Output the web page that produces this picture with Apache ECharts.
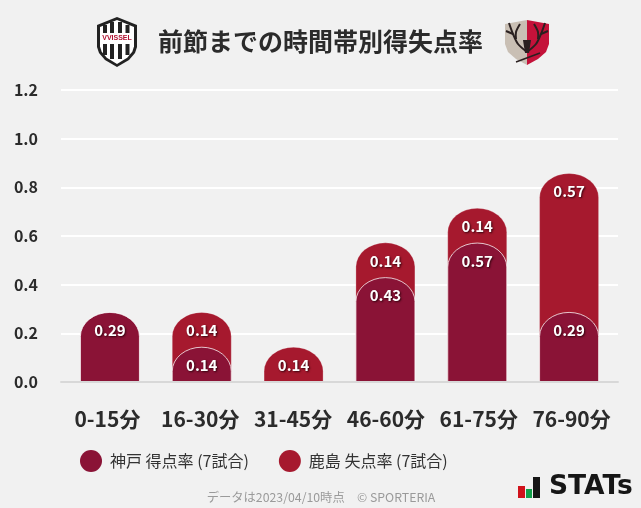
<!DOCTYPE html>
<html><head><meta charset="utf-8">
<style>html,body{margin:0;padding:0;background:#f1f1f1}#c{width:641px;height:508px}</style>
<script src="https://cdn.jsdelivr.net/npm/echarts@6/dist/echarts.min.js"></script>
</head><body><div id="c"></div>
<script>
const categories = ['0-15分','16-30分','31-45分','46-60分','61-75分','76-90分'];
const kobeScored = [0.286,0.143,0,0.429,0.571,0.286];
const kashimaConceded = [0,0.143,0.143,0.143,0.143,0.571];
const yTicks = [0,0.2,0.4,0.6,0.8,1.0,1.2];
const kobeName = '神戸 得点率 (7試合)';
const kashimaName = '鹿島 失点率 (7試合)';
const titleText = '前節までの時間帯別得失点率';
const footerText = 'データは2023/04/10時点　© SPORTERIA';
const FONT = '"Noto Sans CJK JP","Noto Sans",sans-serif';
const DARK = '#8a1336', RED = '#a6192e';

function capBar(color, stroke){
  return function(params, api){
    const idx = api.value(0), top = api.value(1), own = api.value(2);
    if(!own) return {type:'group',children:[]};
    const p0 = api.coord([idx,0]), p1 = api.coord([idx,top]);
    const w = 59, ry = 24;
    const x0 = p0[0]-w/2, x1 = p0[0]+w/2, yb = p0[1], yt = p1[1], yc = yt+ry;
    const d = `M${x0} ${yb}L${x0} ${yc}A${w/2} ${ry} 0 0 1 ${x1} ${yc}L${x1} ${yb}Z`;
    return {type:'group',children:[
      {type:'path',shape:{pathData:d},style:{fill:color,stroke:stroke,lineWidth:1}},
      {type:'text',style:{text:own.toFixed(2),x:p0[0],y:yt+18,align:'center',verticalAlign:'middle',
        fill:'#fff',font:'bold 15px '+FONT,textShadowColor:'rgba(40,0,10,0.9)',textShadowBlur:2,textShadowOffsetX:1,textShadowOffsetY:1}}
    ]};
  };
}

const shield = (x,y,w,h)=>[[x+w/2,y],[x+w,y+h*0.16],[x+w,y+h*0.6],[x+w*0.95,y+h*0.72],[x+w*0.8,y+h*0.86],[x+w/2,y+h],[x+w*0.2,y+h*0.86],[x+w*0.05,y+h*0.72],[x,y+h*0.6],[x,y+h*0.16]];
const poly = (points,fill,z)=>({type:'polygon',shape:{points},style:{fill},z:z||10});
const line = (points,lw,z)=>({type:'polyline',shape:{points,smooth:0.3},style:{fill:'none',stroke:'#2a2020',lineWidth:lw||2},z:z||11});
const stripes = [103,110,118,125.5].map(x=>({type:'rect',shape:{x:x,y:(x>105&&x<125)?22:25,width:4,height:(x>105&&x<125)?37:30},style:{fill:'#222'},z:11}));
const graphics = [
  poly(shield(97,17,40,50),'#222'),
  poly(shield(100,20,34,44),'#fff'),
  ...stripes,
  {type:'rect',shape:{x:100,y:33,width:34,height:11},style:{fill:'#fff'},z:12},
  {type:'text',style:{text:'VVISSEL',x:117,y:38.5,align:'center',verticalAlign:'middle',fill:'#b01030',font:'bold 7px "Liberation Sans",sans-serif'},z:13},
  poly([[527,20],[549,24],[549,44],[546,52],[538,59],[527,65]],'#c4123a'),
  poly([[527,20],[505,24],[505,44],[508,52],[516,59],[527,65]],'#c9bfb4'),
  line([[527,52],[518,44],[513,34],[509,23]]),
  line([[513,34],[506,31]]),
  line([[516,39],[516,32],[520,24]]),
  line([[527,52],[536,44],[541,34],[545,23]]),
  line([[541,34],[548,31]]),
  line([[538,39],[538,32],[534,24]]),
  poly([[523,40],[531,40],[529,53],[525,53]],'#2a2020',11),
  line([[516,62],[540,53]],1.5),
  {type:'text',style:{text:titleText,x:320.5,y:41,align:'center',verticalAlign:'middle',fill:'#2b2b2b',font:'bold 25px '+FONT},z:10},
  {type:'text',style:{text:footerText,x:321,y:497,align:'center',verticalAlign:'middle',fill:'#9a9a9a',font:'12.3px '+FONT},z:10},
  {type:'rect',shape:{x:518,y:486,width:7,height:12},style:{fill:'#d0121b'},z:10},
  {type:'rect',shape:{x:526,y:489,width:6,height:9},style:{fill:'#12a04a'},z:10},
  {type:'rect',shape:{x:533,y:477,width:7,height:21},style:{fill:'#161616'},z:10},
  {type:'text',style:{text:'STATs',x:549,y:487,align:'left',verticalAlign:'middle',fill:'#161616',font:'bold 26.5px "DejaVu Sans",sans-serif'},z:10}
];

const chart = echarts.init(document.getElementById('c'),null,{renderer:'canvas'});
const yBase = {type:'value',min:0,max:1.2,interval:0.2};
chart.setOption({
  animation:false,
  backgroundColor:'#f1f1f1',
  textStyle:{fontFamily:FONT},
  legend:{left:75,top:445,itemWidth:22,itemHeight:22,itemGap:30,icon:'circle',selectedMode:false,
    data:[{name:kobeName,itemStyle:{color:DARK}},{name:kashimaName,itemStyle:{color:RED}}],
    textStyle:{color:'#333',fontSize:16,fontFamily:FONT,padding:[0,0,0,3]}},
  grid:[{left:61,width:557,top:90,height:292},{left:64,width:551,top:90,height:292}],
  xAxis:[
    {type:'category',gridIndex:0,data:categories,axisTick:{show:false},
      axisLabel:{margin:27,color:'#2b2b2b',fontSize:21,fontWeight:'bold',fontFamily:FONT,interval:0},
      axisLine:{show:true,lineStyle:{color:'#d8d8d8',width:2}},z:5},
    {type:'category',gridIndex:1,data:categories,show:false}
  ],
  yAxis:[
    Object.assign({},yBase,{gridIndex:0,axisLine:{show:false},axisTick:{show:false},
      splitLine:{show:true,lineStyle:{color:'#ffffff',width:2}},
      axisLabel:{margin:23,color:'#2b2b2b',fontSize:16,fontWeight:'bold',fontFamily:FONT,padding:[0,0,3,0],
        formatter:v=>v.toFixed(1),customValues:yTicks}}),
    Object.assign({},yBase,{gridIndex:1,show:false,splitLine:{show:false}})
  ],
  series:[
    {type:'custom',name:kashimaName,xAxisIndex:1,yAxisIndex:1,z:3,color:RED,
      renderItem:capBar(RED,'rgba(255,255,255,0.25)'),encode:{x:0,y:1},
      data:categories.map((c,i)=>[i,kobeScored[i]+kashimaConceded[i],kashimaConceded[i]])},
    {type:'custom',name:kobeName,xAxisIndex:1,yAxisIndex:1,z:4,color:DARK,
      renderItem:capBar(DARK,'rgba(255,255,255,0.75)'),encode:{x:0,y:1},
      data:categories.map((c,i)=>[i,kobeScored[i],kobeScored[i]])}
  ],
  graphic:graphics
});
</script></body></html>
